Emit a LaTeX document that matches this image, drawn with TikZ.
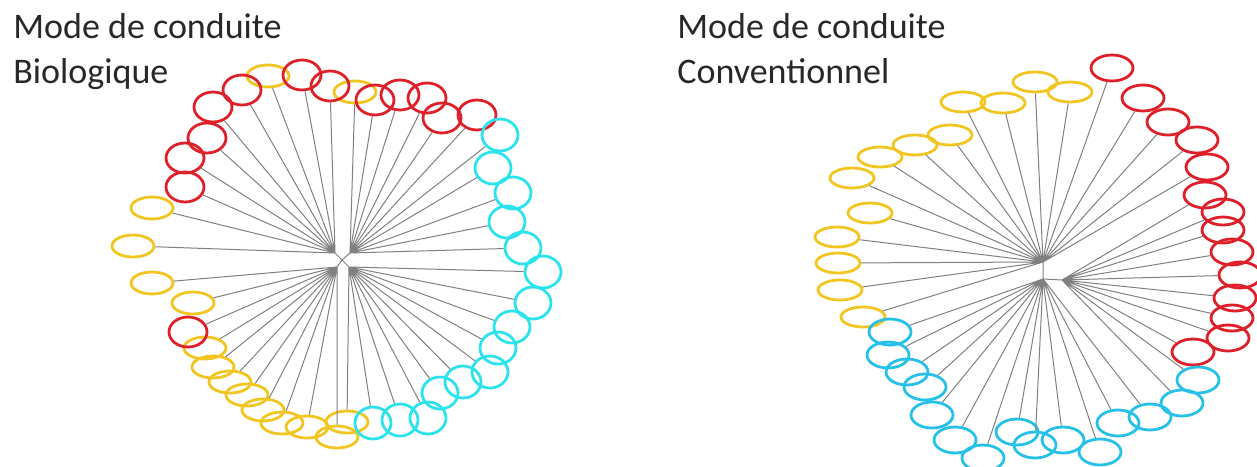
\documentclass[tikz,border=0pt]{standalone}
\usepackage{fontspec}
\setmainfont{Carlito}
\usepackage{xcolor}
\definecolor{leafred}{RGB}{222,32,42}
\definecolor{leafgold}{RGB}{242,198,34}
\definecolor{leafcyan}{RGB}{44,226,236}
\definecolor{leafblue}{RGB}{38,192,232}
\definecolor{titlegray}{RGB}{40,40,40}
\usepackage{tikz}
\usetikzlibrary{shapes.geometric, positioning}
\tikzset{
  leaf/.style={
    ellipse, inner sep=0pt, line width=1.4pt
  },
  biored/.style={leaf, draw=leafred, minimum width=19pt, minimum height=15pt},
  biogold/.style={leaf, draw=leafgold, minimum width=21pt, minimum height=11pt},
  biocyan/.style={leaf, draw=leafcyan, minimum width=18pt, minimum height=16pt},
  convred/.style={leaf, draw=leafred, minimum width=21pt, minimum height=13pt},
  convgold/.style={leaf, draw=leafgold, minimum width=22pt, minimum height=10pt},
  convcyan/.style={leaf, draw=leafblue, minimum width=21pt, minimum height=13pt},
  branch/.style={draw=black!50, line width=0.5pt},
  heading/.style={font=\fontsize{18}{22}\selectfont, text=titlegray,
    align=left, inner sep=0pt, anchor=base west},
}

\begin{document}
\begin{tikzpicture}[x=0.5pt, y=-0.5pt]
  \useasboundingbox (0,0) rectangle (1257,466);

  % titles
  \node (biotitle)  [heading] at (13,83)  {Mode de conduite\\Biologique};
  \node (convtitle) [heading] at (677,83) {Mode de conduite\\Conventionnel};

  % ---- biologique : inner branches
  \coordinate (bhub) at (342,260);
  \coordinate (bnw)  at (335,253);
  \coordinate (bne)  at (350,253);
  \coordinate (bse)  at (349,267);
  \coordinate (bsw)  at (337,267);

  % gold leaves
  \node (bio1)  [biogold] at (133,246) {};
  \node (bio2)  [biogold] at (152,208) {};
  \node (bio3)  [biogold] at (152,283) {};
  \node (bio4)  [biogold] at (193,303) {};
  \node (bio5)  [biogold] at (205,348) {};
  \node (bio6)  [biogold] at (213,367) {};
  \node (bio7)  [biogold] at (230,382) {};
  \node (bio8)  [biogold] at (247,395) {};
  \node (bio9)  [biogold] at (263,410) {};
  \node (bio10) [biogold] at (282,423) {};
  \node (bio11) [biogold] at (307,427) {};
  \node (bio12) [biogold] at (337,437) {};
  \node (bio13) [biogold] at (347,422) {};
  \node (bio14) [biogold] at (268,76)  {};
  \node (bio15) [biogold] at (355,92)  {};
  % red leaves
  \node (bio16) [biored] at (185,187) {};
  \node (bio17) [biored] at (185,158) {};
  \node (bio18) [biored] at (207,138) {};
  \node (bio19) [biored] at (213,107) {};
  \node (bio20) [biored] at (242,90)  {};
  \node (bio21) [biored] at (302,75)  {};
  \node (bio22) [biored] at (330,86)  {};
  \node (bio23) [biored] at (375,100) {};
  \node (bio24) [biored] at (400,95)  {};
  \node (bio25) [biored] at (427,98)  {};
  \node (bio26) [biored] at (442,118) {};
  \node (bio27) [biored] at (477,115) {};
  \node (bio28) [biored] at (188,332) {};
  % cyan leaves
  \node (bio29) [biocyan] at (500,135) {};
  \node (bio30) [biocyan] at (493,168) {};
  \node (bio31) [biocyan] at (513,193) {};
  \node (bio32) [biocyan] at (507,222) {};
  \node (bio33) [biocyan] at (523,248) {};
  \node (bio34) [biocyan] at (543,272) {};
  \node (bio35) [biocyan] at (533,303) {};
  \node (bio36) [biocyan] at (512,327) {};
  \node (bio37) [biocyan] at (498,348) {};
  \node (bio38) [biocyan] at (490,372) {};
  \node (bio39) [biocyan] at (463,382) {};
  \node (bio40) [biocyan] at (440,393) {};
  \node (bio41) [biocyan] at (428,418) {};
  \node (bio42) [biocyan] at (400,420) {};
  \node (bio43) [biocyan] at (373,423) {};

  \draw [branch] (bhub) -- (bnw) (bhub) -- (bne) (bhub) -- (bse) (bhub) -- (bsw);
  \draw [branch] (bnw) -- (bio1) (bnw) -- (bio2) (bnw) -- (bio16) (bnw) -- (bio17)
                 (bnw) -- (bio18) (bnw) -- (bio19) (bnw) -- (bio20) (bnw) -- (bio14)
                 (bnw) -- (bio21) (bnw) -- (bio22);
  \draw [branch] (bne) -- (bio15) (bne) -- (bio23) (bne) -- (bio24) (bne) -- (bio25)
                 (bne) -- (bio26) (bne) -- (bio27) (bne) -- (bio29) (bne) -- (bio30)
                 (bne) -- (bio31) (bne) -- (bio32) (bne) -- (bio33);
  \draw [branch] (bse) -- (bio34) (bse) -- (bio35) (bse) -- (bio36) (bse) -- (bio37)
                 (bse) -- (bio38) (bse) -- (bio39) (bse) -- (bio40) (bse) -- (bio41)
                 (bse) -- (bio42) (bse) -- (bio43) (bse) -- (bio13);
  \draw [branch] (bsw) -- (bio3) (bsw) -- (bio4) (bsw) -- (bio28) (bsw) -- (bio5)
                 (bsw) -- (bio6) (bsw) -- (bio7) (bsw) -- (bio8) (bsw) -- (bio9)
                 (bsw) -- (bio10) (bsw) -- (bio11) (bsw) -- (bio12);

  % ---- conventionnel : inner branches
  \coordinate (chub)   at (1043,262);
  \coordinate (clow)   at (1043,279);
  \coordinate (cright) at (1062,280);

  % gold leaves
  \node (conv1)  [convgold] at (1035,82)  {};
  \node (conv2)  [convgold] at (1070,92)  {};
  \node (conv3)  [convgold] at (963,102)  {};
  \node (conv4)  [convgold] at (1003,103) {};
  \node (conv5)  [convgold] at (950,135)  {};
  \node (conv6)  [convgold] at (915,145)  {};
  \node (conv7)  [convgold] at (880,157)  {};
  \node (conv8)  [convgold] at (852,178)  {};
  \node (conv9)  [convgold] at (870,213)  {};
  \node (conv10) [convgold] at (837,237)  {};
  \node (conv11) [convgold] at (838,263)  {};
  \node (conv12) [convgold] at (840,290)  {};
  \node (conv13) [convgold] at (863,317)  {};
  % red leaves
  \node (conv14) [convred] at (1112,68)  {};
  \node (conv15) [convred] at (1143,98)  {};
  \node (conv16) [convred] at (1168,122) {};
  \node (conv17) [convred] at (1197,140) {};
  \node (conv18) [convred] at (1207,167) {};
  \node (conv19) [convred] at (1205,195) {};
  \node (conv20) [convred] at (1223,212) {};
  \node (conv21) [convred] at (1223,230) {};
  \node (conv22) [convred] at (1232,252) {};
  \node (conv23) [convred] at (1240,275) {};
  \node (conv24) [convred] at (1235,298) {};
  \node (conv25) [convred] at (1232,318) {};
  \node (conv26) [convred] at (1228,338) {};
  \node (conv27) [convred] at (1193,352) {};
  % cyan leaves
  \node (conv28) [convcyan] at (890,332)  {};
  \node (conv29) [convcyan] at (888,355)  {};
  \node (conv30) [convcyan] at (907,372)  {};
  \node (conv31) [convcyan] at (925,387)  {};
  \node (conv32) [convcyan] at (932,415)  {};
  \node (conv33) [convcyan] at (955,440)  {};
  \node (conv34) [convcyan] at (983,458)  {};
  \node (conv35) [convcyan] at (1017,432) {};
  \node (conv36) [convcyan] at (1035,445) {};
  \node (conv37) [convcyan] at (1063,440) {};
  \node (conv38) [convcyan] at (1100,452) {};
  \node (conv39) [convcyan] at (1118,423) {};
  \node (conv40) [convcyan] at (1150,417) {};
  \node (conv41) [convcyan] at (1182,403) {};
  \node (conv42) [convcyan] at (1198,380) {};

  \draw [branch] (chub) -- (clow) -- (cright);
  \draw [branch] (chub) -- (conv1) (chub) -- (conv2) (chub) -- (conv3) (chub) -- (conv4)
                 (chub) -- (conv5) (chub) -- (conv6) (chub) -- (conv7) (chub) -- (conv8)
                 (chub) -- (conv9) (chub) -- (conv10) (chub) -- (conv11) (chub) -- (conv12)
                 (chub) -- (conv13) (chub) -- (conv14) (chub) -- (conv15) (chub) -- (conv16)
                 (chub) -- (conv17) (chub) -- (conv18);
  \draw [branch] (cright) -- (conv19) (cright) -- (conv20) (cright) -- (conv21)
                 (cright) -- (conv22) (cright) -- (conv23) (cright) -- (conv24)
                 (cright) -- (conv25) (cright) -- (conv26) (cright) -- (conv27)
                 (cright) -- (conv42) (cright) -- (conv41);
  \draw [branch] (clow) -- (conv28) (clow) -- (conv29) (clow) -- (conv30) (clow) -- (conv31)
                 (clow) -- (conv32) (clow) -- (conv33) (clow) -- (conv34) (clow) -- (conv35)
                 (clow) -- (conv36) (clow) -- (conv37) (clow) -- (conv38) (clow) -- (conv39)
                 (clow) -- (conv40);
\end{tikzpicture}
\end{document}
